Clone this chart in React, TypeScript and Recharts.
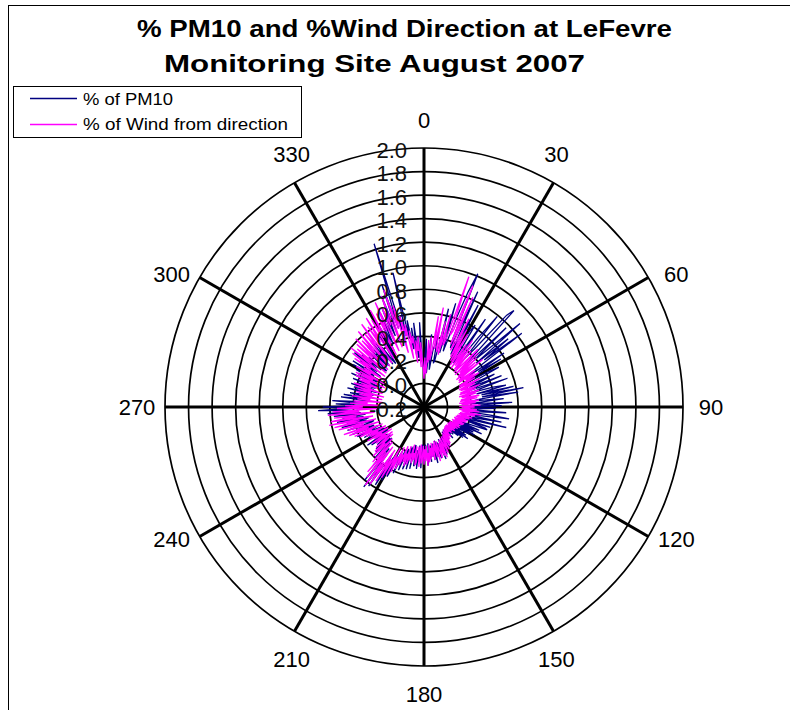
import React from "react";
import {
  RadarChart,
  Radar,
  PolarGrid,
  PolarAngleAxis,
  PolarRadiusAxis,
  Legend,
} from "recharts";

// compass direction, one category per degree
const directions = Array.from({ length: 360 }, (_, i) => i);

// % of PM10 by direction (1 value per degree)
const pm10 = [
  0.10, 0.22, 0.38, 0.14, 0.09, 0.25, 0.42, 0.18, 0.12, 0.30,
  0.33, 0.45, 0.18, 0.20, 0.66, 0.35, 0.28, 0.72, 0.40, 0.30,
  0.61, 0.85, 1.02, 0.42, 0.35, 0.88, 0.45, 0.30, 0.78, 0.40,
  0.26, 0.55, 0.62, 0.30, 0.25, 0.71, 0.35, 0.28, 0.55, 0.79,
  0.34, 0.45, 0.85, 0.92, 0.40, 0.30, 0.77, 0.38, 0.55, 0.88,
  0.38, 0.72, 0.45, 0.84, 0.30, 0.25, 0.62, 0.35, 0.57, 0.22,
  0.18, 0.40, 0.52, 0.25, 0.19, 0.46, 0.30, 0.22, 0.51, 0.28,
  0.20, 0.55, 0.30, 0.22, 0.41, 0.52, 0.26, 0.58, 0.30, 0.66,
  0.30, 0.61, 0.28, 0.22, 0.48, 0.30, 0.20, 0.55, 0.26, 0.46,
  0.20, 0.41, 0.25, 0.18, 0.50, 0.28, 0.19, 0.38, 0.53, 0.24,
  0.20, 0.47, 0.25, 0.16, 0.52, 0.22, 0.14, 0.39, 0.20, 0.35,
  0.37, 0.18, 0.12, 0.31, 0.16, 0.34, 0.12, 0.27, 0.15, 0.29,
  0.10, 0.25, 0.14, 0.09, 0.23, 0.12, 0.26, 0.10, 0.22, 0.08,
  0.18, 0.09, 0.05, 0.14, 0.08, 0.12, 0.05, 0.16, 0.07, 0.11,
  0.05, 0.13, 0.08, 0.15, 0.06, 0.18, 0.08, 0.12, 0.20, 0.09,
  0.17, 0.10, 0.22, 0.12, 0.25, 0.14, 0.10, 0.28, 0.13, 0.21,
  0.12, 0.26, 0.14, 0.10, 0.24, 0.13, 0.29, 0.12, 0.26, 0.14,
  0.23, 0.13, 0.27, 0.15, 0.11, 0.26, 0.30, 0.14, 0.12, 0.24,
  0.28, 0.15, 0.12, 0.32, 0.18, 0.27, 0.13, 0.33, 0.17, 0.29,
  0.31, 0.16, 0.13, 0.34, 0.18, 0.15, 0.35, 0.16, 0.28, 0.36,
  0.18, 0.24, 0.38, 0.20, 0.30, 0.42, 0.22, 0.33, 0.47, 0.25,
  0.52, 0.30, 0.58, 0.35, 0.28, 0.62, 0.40, 0.65, 0.30, 0.60,
  0.26, 0.46, 0.28, 0.22, 0.40, 0.24, 0.18, 0.36, 0.20, 0.34,
  0.17, 0.31, 0.20, 0.18, 0.35, 0.22, 0.38, 0.19, 0.16, 0.32,
  0.20, 0.34, 0.18, 0.37, 0.24, 0.20, 0.42, 0.26, 0.22, 0.45,
  0.25, 0.41, 0.28, 0.48, 0.26, 0.24, 0.52, 0.30, 0.47, 0.28,
  0.55, 0.32, 0.50, 0.30, 0.57, 0.34, 0.62, 0.36, 0.70, 0.40,
  0.66, 0.35, 0.55, 0.30, 0.58, 0.32, 0.28, 0.51, 0.30, 0.49,
  0.26, 0.44, 0.28, 0.24, 0.47, 0.26, 0.42, 0.22, 0.45, 0.25,
  0.40, 0.24, 0.45, 0.26, 0.23, 0.48, 0.27, 0.43, 0.25, 0.46,
  0.28, 0.50, 0.30, 0.52, 0.27, 0.25, 0.47, 0.30, 0.55, 0.32,
  0.49, 0.28, 0.43, 0.26, 0.24, 0.46, 0.28, 0.50, 0.27, 0.45,
  0.26, 0.52, 0.30, 0.48, 0.25, 0.42, 0.28, 0.24, 0.51, 0.30,
  0.36, 0.60, 0.34, 0.55, 0.40, 0.68, 0.42, 0.72, 0.45, 0.80,
  0.45, 0.90, 0.50, 1.25, 0.48, 0.60, 0.42, 0.97, 0.40, 0.55,
  0.30, 0.48, 0.25, 0.52, 0.22, 0.40, 0.18, 0.52, 0.20, 0.15,
];

// % of wind from each direction
const wind = [
  0.04, 0.22, 0.12, 0.08, 0.37, 0.18, 0.40, 0.20, 0.28, 0.58,
  0.30, 0.66, 0.32, 0.28, 0.55, 0.26, 0.62, 0.35, 0.40, 0.97,
  0.45, 0.50, 0.91, 0.38, 0.82, 0.33, 0.40, 0.64, 0.28, 0.55,
  0.25, 0.52, 0.22, 0.30, 0.44, 0.20, 0.50, 0.24, 0.45, 0.21,
  0.42, 0.19, 0.28, 0.47, 0.18, 0.45, 0.22, 0.41, 0.19, 0.38,
  0.16, 0.44, 0.20, 0.17, 0.34, 0.16, 0.32, 0.22, 0.35, 0.15,
  0.30, 0.14, 0.20, 0.33, 0.13, 0.28, 0.14, 0.19, 0.31, 0.13,
  0.27, 0.12, 0.20, 0.29, 0.11, 0.26, 0.13, 0.18, 0.28, 0.12,
  0.26, 0.11, 0.17, 0.27, 0.10, 0.24, 0.12, 0.17, 0.28, 0.10,
  0.23, 0.12, 0.18, 0.25, 0.10, 0.27, 0.12, 0.17, 0.29, 0.11,
  0.24, 0.10, 0.15, 0.22, 0.09, 0.20, 0.08, 0.14, 0.19, 0.07,
  0.18, 0.08, 0.12, 0.17, 0.06, 0.16, 0.07, 0.11, 0.14, 0.05,
  0.15, 0.05, 0.10, 0.14, 0.04, 0.12, 0.05, 0.08, 0.13, 0.04,
  0.11, 0.04, 0.07, 0.12, 0.04, 0.10, 0.05, 0.09, 0.14, 0.05,
  0.11, 0.15, 0.06, 0.13, 0.18, 0.07, 0.20, 0.09, 0.14, 0.22,
  0.09, 0.19, 0.24, 0.10, 0.16, 0.27, 0.11, 0.25, 0.13, 0.22,
  0.26, 0.11, 0.18, 0.28, 0.10, 0.24, 0.12, 0.17, 0.26, 0.11,
  0.23, 0.15, 0.25, 0.12, 0.27, 0.19, 0.30, 0.13, 0.26, 0.16,
  0.29, 0.13, 0.25, 0.28, 0.12, 0.31, 0.18, 0.14, 0.27, 0.30,
  0.14, 0.26, 0.20, 0.29, 0.13, 0.27, 0.21, 0.31, 0.15, 0.33,
  0.22, 0.30, 0.16, 0.34, 0.24, 0.38, 0.18, 0.42, 0.28, 0.46,
  0.20, 0.50, 0.32, 0.55, 0.24, 0.60, 0.38, 0.63, 0.23, 0.57,
  0.30, 0.53, 0.20, 0.44, 0.28, 0.18, 0.40, 0.25, 0.36, 0.15,
  0.33, 0.22, 0.14, 0.31, 0.20, 0.34, 0.13, 0.30, 0.22, 0.36,
  0.15, 0.32, 0.24, 0.35, 0.16, 0.40, 0.28, 0.44, 0.18, 0.48,
  0.30, 0.52, 0.20, 0.47, 0.33, 0.55, 0.22, 0.58, 0.36, 0.62,
  0.24, 0.60, 0.38, 0.57, 0.22, 0.62, 0.35, 0.58, 0.20, 0.54,
  0.32, 0.47, 0.17, 0.43, 0.28, 0.40, 0.15, 0.37, 0.26, 0.42,
  0.16, 0.36, 0.25, 0.39, 0.15, 0.38, 0.27, 0.41, 0.17, 0.43,
  0.28, 0.37, 0.18, 0.40, 0.30, 0.44, 0.17, 0.45, 0.29, 0.42,
  0.19, 0.47, 0.33, 0.41, 0.20, 0.52, 0.36, 0.56, 0.22, 0.60,
  0.38, 0.55, 0.23, 0.58, 0.40, 0.62, 0.24, 0.57, 0.42, 0.65,
  0.25, 0.60, 0.44, 0.68, 0.26, 0.63, 0.46, 0.70, 0.28, 0.66,
  0.48, 0.74, 0.30, 0.69, 0.52, 0.78, 0.32, 0.72, 0.55, 0.81,
  0.34, 0.85, 0.50, 0.70, 0.28, 0.60, 0.42, 0.52, 0.22, 0.46,
  0.35, 0.41, 0.18, 0.37, 0.28, 0.40, 0.14, 0.35, 0.20, 0.12,
];

const labelledAngles = [0, 30, 60, 90, 120, 150, 180, 210, 240, 270, 300, 330];
const radiusTicks = [-0.2, 0, 0.2, 0.4, 0.6, 0.8, 1.0, 1.2, 1.4, 1.6, 1.8, 2.0];

const PM_COLOR = "#000080";
const WIND_COLOR = "#FF00FF";
const FONT = "'Liberation Sans', Arial, sans-serif";

const CX = 424;
const CY = 407;
const R = 259;

const rows = directions.map((dir, i) => ({ dir, pm10: pm10[i], wind: wind[i] }));

// spokes only every 30 degrees (recharts angles, 90 = up)
const spokeAngles = labelledAngles.map((a) => 90 - a);

const AngleTick = (props: any) => {
  const { payload } = props;
  const a = payload.value as number;
  if (!labelledAngles.includes(a)) return <g />;
  // excel pulls the in-between labels a little towards the nearest axis
  const axis = Math.round(a / 90) * 90;
  const a2 = a % 90 === 0 ? a : a + Math.sign(axis - a) * 2.3;
  const rad = (a2 * Math.PI) / 180;
  const d = a % 90 === 0 ? 287 : 285;
  return (
    <text
      x={CX + d * Math.sin(rad)}
      y={CY - d * Math.cos(rad)}
      textAnchor="middle"
      dominantBaseline="central"
      fontSize={22}
      fontFamily={FONT}
      fill="#000"
    >
      {a}
    </text>
  );
};

const RadiusTick = (props: any) => {
  const { x, y, payload } = props;
  return (
    <text
      x={x - 17}
      y={y + 2}
      textAnchor="end"
      dominantBaseline="central"
      fontSize={22}
      fontFamily={FONT}
      fill="#111"
    >
      {Number(payload.value).toFixed(1)}
    </text>
  );
};

const LegendBox = () => (
  <svg width={290} height={52} style={{ display: "block" }}>
    <rect x={0.5} y={0.5} width={288} height={51} fill="#fff" stroke="#000" />
    <line x1={17} x2={64} y1={12.5} y2={12.5} stroke={PM_COLOR} strokeWidth={1.5} />
    <text
      x={70}
      y={19}
      fontSize={16}
      fontFamily={FONT}
      textLength={90}
      lengthAdjust="spacingAndGlyphs"
    >
      % of PM10
    </text>
    <line x1={17} x2={64} y1={38.5} y2={38.5} stroke={WIND_COLOR} strokeWidth={1.5} />
    <text
      x={70}
      y={44}
      fontSize={16}
      fontFamily={FONT}
      textLength={205}
      lengthAdjust="spacingAndGlyphs"
    >
      % of Wind from direction
    </text>
  </svg>
);

export default function App() {
  return (
    <div
      style={{
        position: "absolute",
        left: 0,
        top: 0,
        width: 790,
        height: 710,
        overflow: "hidden",
        background: "#fff",
      }}
    >
      <div
        style={{
          position: "absolute",
          left: 8,
          top: 5,
          width: 820,
          height: 740,
          border: "1px solid #000",
        }}
      />
      <svg
        width={790}
        height={85}
        style={{ position: "absolute", left: 0, top: 0 }}
      >
        <text
          x={137}
          y={37}
          fontSize={24}
          fontWeight="bold"
          fontFamily={FONT}
          textLength={535}
          lengthAdjust="spacingAndGlyphs"
        >
          % PM10 and %Wind Direction at LeFevre
        </text>
        <text
          x={164}
          y={72}
          fontSize={24}
          fontWeight="bold"
          fontFamily={FONT}
          textLength={421}
          lengthAdjust="spacingAndGlyphs"
        >
          Monitoring Site August 2007
        </text>
      </svg>
      <div style={{ position: "absolute", left: 0, top: 0 }}>
        <RadarChart
          width={790}
          height={710}
          data={rows}
          cx={CX}
          cy={CY}
          innerRadius={0}
          outerRadius={R}
          startAngle={90}
          endAngle={-270}
          margin={{ top: 0, right: 0, bottom: 0, left: 0 }}
        >
          <PolarGrid
            gridType="circle"
            radialLines={false}
            stroke="#000"
            strokeWidth={1.7}
          />
          <PolarGrid
            gridType="circle"
            polarAngles={spokeAngles}
            polarRadius={[]}
            stroke="#000"
            strokeWidth={3}
          />
          <PolarAngleAxis
            dataKey="dir"
            axisLine={false}
            tickLine={false}
            tick={<AngleTick />}
          />
          <PolarRadiusAxis
            angle={90}
            type="number"
            domain={[-0.2, 2.0]}
            ticks={radiusTicks}
            tickCount={12}
            axisLine={false}
            tickLine={false}
            tick={<RadiusTick />}
          />
          <Radar
            name="% of PM10"
            dataKey="pm10"
            stroke={PM_COLOR}
            strokeWidth={1.3}
            fill="none"
            fillOpacity={0}
            dot={false}
            isAnimationActive={false}
          />
          <Radar
            name="% of Wind from direction"
            dataKey="wind"
            stroke={WIND_COLOR}
            strokeWidth={1.3}
            fill="none"
            fillOpacity={0}
            dot={false}
            isAnimationActive={false}
          />
          <Legend
            layout="vertical"
            align="center"
            verticalAlign="middle"
            content={<LegendBox />}
            wrapperStyle={{ left: 13, top: 86, width: 290, height: 52 }}
          />
        </RadarChart>
      </div>
    </div>
  );
}
